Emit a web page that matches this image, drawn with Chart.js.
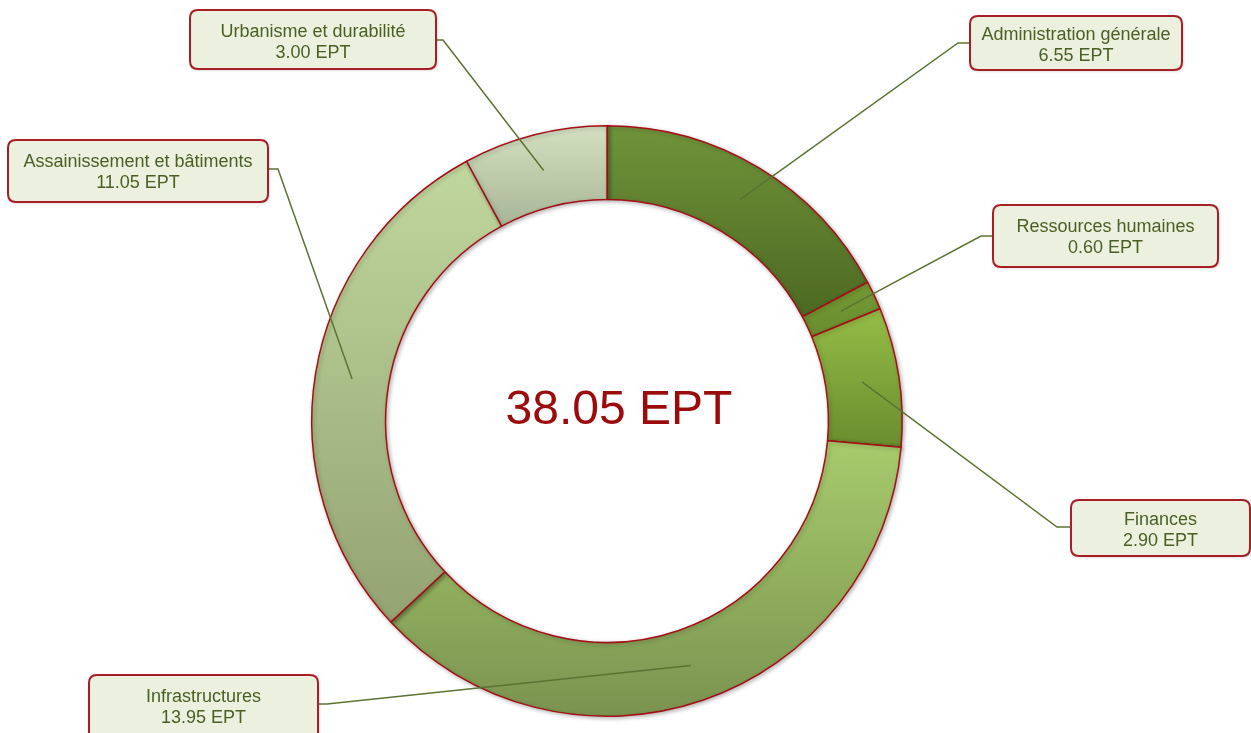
<!DOCTYPE html>
<html>
<head>
<meta charset="utf-8">
<script src="https://cdn.jsdelivr.net/npm/chart.js@4/dist/chart.umd.min.js"></script>
<style>
  html, body { margin: 0; padding: 0; background: #ffffff; }
  #wrap { width: 1251px; height: 733px; position: relative; }
</style>
</head>
<body>
<div id="wrap"><canvas id="c" width="1251" height="733"></canvas></div>
<script>
// ---- data ----
const categories = [
  "Administration générale",
  "Ressources humaines",
  "Finances",
  "Infrastructures",
  "Assainissement et bâtiments",
  "Urbanisme et durabilité"
];
const values = [6.55, 0.60, 2.90, 13.95, 11.05, 3.00];
const unit = "EPT";

// ---- styles ----
const topColors    = ["#70933a", "#739a34", "#95bd47", "#a8cb6c", "#c0d79e", "#d4e1c1"];
const bottomColors = ["#4d6922", "#6a8d2e", "#6a8d2e", "#7a9350", "#93a372", "#a7b696"];
const sliceBorder = "#a50f16";
const textColor = "#4a5f24";
const leaderColor = "#5b7332";
const boxFill = "#ebf1de";
const boxBorder = "#a81e24";
const centerColor = "#9c0b0b";

// label box layout: [x, y, w, h, side, stubX, stubY]
const boxLayout = [
  [970, 16, 212, 54, "left", 958, 43],
  [993, 205, 225, 62, "left", 981, 236],
  [1071, 500, 179, 56, "left", 1057, 527],
  [89, 675, 229, 66, "right", 327, 704],
  [8, 140, 260, 62, "right", 278, 169],
  [190, 10, 246, 59, "right", 443, 40]
];

function gradientFor(ctx) {
  const chart = ctx.chart;
  const i = ctx.dataIndex;
  const area = chart.chartArea;
  if (!area) return topColors[i];
  const cx = (area.left + area.right) / 2;
  const cy = (area.top + area.bottom) / 2;
  const outer = Math.min(area.right - area.left, area.bottom - area.top) / 2;
  const inner = outer * 0.75;
  const total = values.reduce((a, b) => a + b, 0);
  let before = 0;
  for (let k = 0; k < i; k++) before += values[k];
  const a0 = -Math.PI / 2 + before / total * 2 * Math.PI;
  const a1 = -Math.PI / 2 + (before + values[i]) / total * 2 * Math.PI;
  let minY = Infinity, maxY = -Infinity;
  for (let s = 0; s <= 80; s++) {
    const a = a0 + (a1 - a0) * s / 80;
    for (const r of [inner, outer]) {
      const y = cy + r * Math.sin(a);
      minY = Math.min(minY, y); maxY = Math.max(maxY, y);
    }
  }
  const g = chart.ctx.createLinearGradient(0, minY, 0, maxY);
  g.addColorStop(0, topColors[i]);
  g.addColorStop(1, bottomColors[i]);
  return g;
}

function roundRect(ctx, x, y, w, h, r) {
  ctx.beginPath();
  ctx.moveTo(x + r, y);
  ctx.lineTo(x + w - r, y);
  ctx.quadraticCurveTo(x + w, y, x + w, y + r);
  ctx.lineTo(x + w, y + h - r);
  ctx.quadraticCurveTo(x + w, y + h, x + w - r, y + h);
  ctx.lineTo(x + r, y + h);
  ctx.quadraticCurveTo(x, y + h, x, y + h - r);
  ctx.lineTo(x, y + r);
  ctx.quadraticCurveTo(x, y, x + r, y);
  ctx.closePath();
}

const shadowPlugin = {
  id: "ringShadow",
  beforeDatasetsDraw(chart) {
    const c = chart.ctx;
    c.save();
    c.shadowColor = "rgba(0,0,0,0.28)";
    c.shadowBlur = 4;
    c.shadowOffsetX = 1.5;
    c.shadowOffsetY = 1.5;
  },
  afterDatasetsDraw(chart) {
    chart.ctx.restore();
  }
};

const labelPlugin = {
  id: "calloutLabels",
  afterDraw(chart) {
    const c = chart.ctx;
    const meta = chart.getDatasetMeta(0);
    // center total
    const total = values.reduce((a, b) => a + b, 0);
    const first = meta.data[0];
    c.save();
    c.fillStyle = centerColor;
    c.font = "48px 'Liberation Sans', Arial, sans-serif";
    c.textAlign = "center";
    c.textBaseline = "middle";
    c.fillText(total.toFixed(2) + " " + unit, first.x + 12, first.y - 10);
    c.restore();

    meta.data.forEach((el, i) => {
      const p = el.getProps(["x", "y", "startAngle", "endAngle", "innerRadius", "outerRadius"], true);
      const mid = (p.startAngle + p.endAngle) / 2;
      const rr = (p.innerRadius + p.outerRadius) / 2;
      const ax = p.x + rr * Math.cos(mid);
      const ay = p.y + rr * Math.sin(mid);
      const [bx, by, bw, bh, side, sx, sy] = boxLayout[i];
      const edgeX = side === "left" ? bx : bx + bw;
      // leader line
      c.save();
      c.strokeStyle = leaderColor;
      c.lineWidth = 1.5;
      c.beginPath();
      c.moveTo(edgeX, sy);
      c.lineTo(sx, sy);
      c.lineTo(ax, ay);
      c.stroke();
      c.restore();
      // box
      c.save();
      c.shadowColor = "rgba(0,0,0,0.25)";
      c.shadowBlur = 3;
      c.shadowOffsetX = 1;
      c.shadowOffsetY = 1;
      roundRect(c, bx, by, bw, bh, 8);
      c.fillStyle = boxFill;
      c.fill();
      c.shadowColor = "transparent";
      c.lineWidth = 2;
      c.strokeStyle = boxBorder;
      c.stroke();
      c.restore();
      // text
      c.save();
      c.fillStyle = textColor;
      c.font = "18px 'Liberation Sans', Arial, sans-serif";
      c.textAlign = "center";
      c.textBaseline = "middle";
      const tx = bx + bw / 2;
      const cyb = by + Math.min(bh, 60) / 2 + 3;
      c.fillText(categories[i], tx, cyb - 10.5);
      c.fillText(values[i].toFixed(2) + " " + unit, tx, cyb + 10.5);
      c.restore();
    });
  }
};

new Chart(document.getElementById("c"), {
  type: "doughnut",
  data: {
    labels: categories,
    datasets: [{
      data: values,
      backgroundColor: gradientFor,
      borderColor: sliceBorder,
      borderWidth: 1.5,
      hoverOffset: 0
    }]
  },
  options: {
    responsive: false,
    animation: false,
    cutout: "75%",
    layout: { padding: { left: 311, right: 348, top: 125, bottom: 16 } },
    plugins: {
      legend: { display: false },
      tooltip: { enabled: false }
    }
  },
  plugins: [shadowPlugin, labelPlugin]
});
</script>
</body>
</html>
